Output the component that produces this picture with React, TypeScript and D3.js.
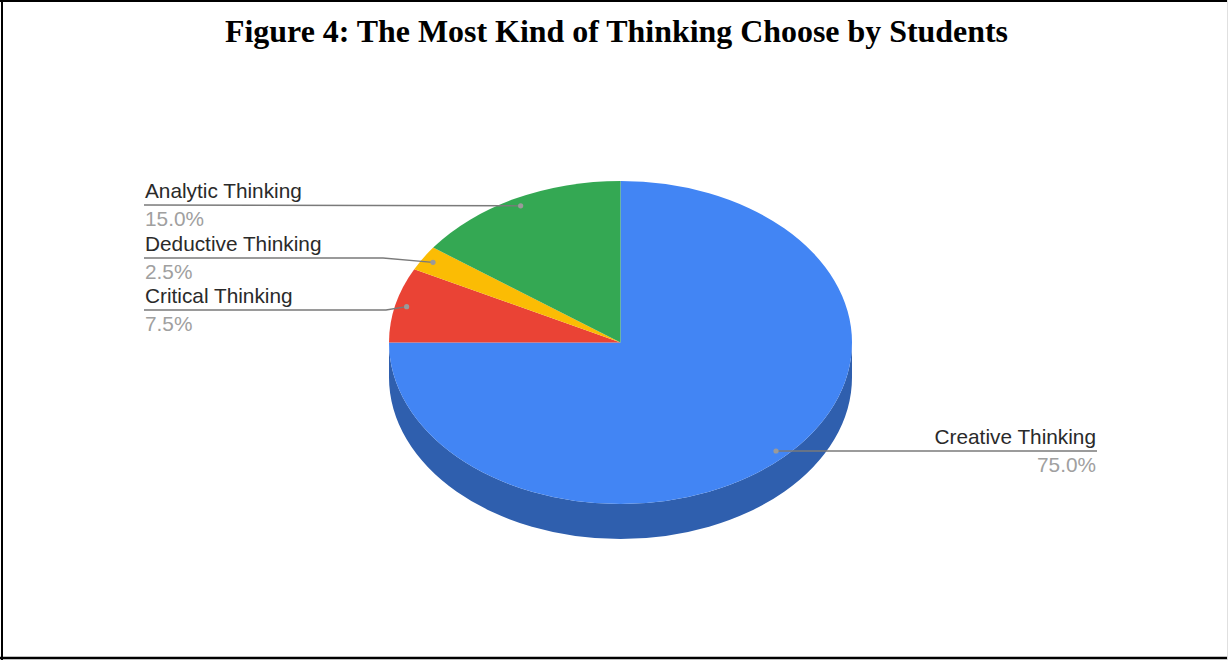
import React from "react";
import * as d3 from "d3";

const categories = ["Creative Thinking", "Critical Thinking", "Deductive Thinking", "Analytic Thinking"];
const values = [75.0, 7.5, 2.5, 15.0];
const colors = ["#4285f4", "#ea4335", "#fbbc04", "#34a853"];
const sideColors = ["#2f5fae", "#a83026", "#b78a03", "#25793c"];
const title = "Figure 4: The Most Kind of Thinking Choose by Students";

// label layout (y of leader line, side)
const labelLineY = [451, 310, 258, 205];
const labelSide = ["right", "left", "left", "left"];
const labelBend = [null, 386, 383, null];

const W = 1228;
const H = 660;
const cx = 620.5;
const cy = 342.5;
const rx = 231.5;
const ry = 161.5;
const depth = 35;
const leftX = 144;
const rightX = 1097;

function pt(a: number, f = 1, dy = 0): [number, number] {
  return [cx + rx * f * Math.sin(a), cy - ry * f * Math.cos(a) + dy];
}

export default function App() {
  const pie = d3.pie<number>().sort(null).startAngle(0).endAngle(2 * Math.PI);
  const arcs = pie(values);
  const arcGen = d3.arc<d3.PieArcDatum<number>>().innerRadius(0).outerRadius(rx);
  const total = d3.sum(values);
  const fmt = d3.format(".1%");

  const sides: JSX.Element[] = [];
  arcs.forEach((a, i) => {
    const s = Math.max(a.startAngle, Math.PI / 2);
    const e = Math.min(a.endAngle, (3 * Math.PI) / 2);
    if (e <= s) return;
    const p0 = pt(s);
    const p1 = pt(e);
    const b1 = pt(e, 1, depth);
    const b0 = pt(s, 1, depth);
    const d = `M${p0[0]},${p0[1]} A${rx},${ry} 0 0 1 ${p1[0]},${p1[1]} L${b1[0]},${b1[1]} A${rx},${ry} 0 0 0 ${b0[0]},${b0[1]} Z`;
    sides.push(<path key={"s" + i} d={d} fill={sideColors[i]} />);
  });

  return (
    <svg width={W} height={H} style={{ position: "absolute", left: 0, top: 0, background: "#fff" }}>
      <rect x={0} y={0} width={W} height={H} fill="#fff" />
      <text
        x={616.5}
        y={42}
        textAnchor="middle"
        fontFamily="'Liberation Serif', 'Times New Roman', serif"
        fontWeight="bold"
        fontSize={30.5}
        fill="#000"
        textLength={783}
        lengthAdjust="spacingAndGlyphs"
      >
        {title}
      </text>
      {sides}
      <g transform={`translate(${cx},${cy}) scale(1,${ry / rx})`}>
        {arcs.map((a, i) => (
          <path key={"t" + i} d={arcGen(a) || ""} fill={colors[i]} />
        ))}
      </g>
      {arcs.map((a, i) => {
        const mid = (a.startAngle + a.endAngle) / 2;
        const [dx, dy] = pt(mid, 0.95);
        const ly = labelLineY[i];
        const right = labelSide[i] === "right";
        const endX = right ? rightX : leftX;
        const bend = labelBend[i];
        const pts: [number, number][] = bend != null ? [[dx, dy], [bend, ly], [endX, ly]] : [[dx, dy], [endX, ly]];
        const line = d3.line()(pts) || "";
        return (
          <g key={"l" + i}>
            <path d={line} fill="none" stroke="#7a7a7a" strokeWidth={1.3} />
            <circle cx={dx} cy={dy} r={2.6} fill="#9a9a9a" />
            <text
              x={right ? rightX - 1 : leftX + 1}
              y={ly - 7}
              textAnchor={right ? "end" : "start"}
              fontFamily="'Liberation Sans', Arial, sans-serif"
              fontSize={20.8}
              fill="#2a2a2a"
            >
              {categories[i]}
            </text>
            <text
              x={right ? rightX - 1 : leftX + 1}
              y={ly + 21}
              textAnchor={right ? "end" : "start"}
              fontFamily="'Liberation Sans', Arial, sans-serif"
              fontSize={20.8}
              fill="#a0a0a0"
            >
              {fmt(values[i] / total)}
            </text>
          </g>
        );
      })}
      <line x1={0} y1={1} x2={W} y2={1} stroke="#000" strokeWidth={2} />
      <line x1={2} y1={0} x2={2} y2={H} stroke="#000" strokeWidth={2} />
      <line x1={0} y1={658} x2={W} y2={658} stroke="#000" strokeWidth={2.5} />
      <line x1={1227.5} y1={0} x2={1227.5} y2={H} stroke="#e0e0e0" strokeWidth={1} />
    </svg>
  );
}
